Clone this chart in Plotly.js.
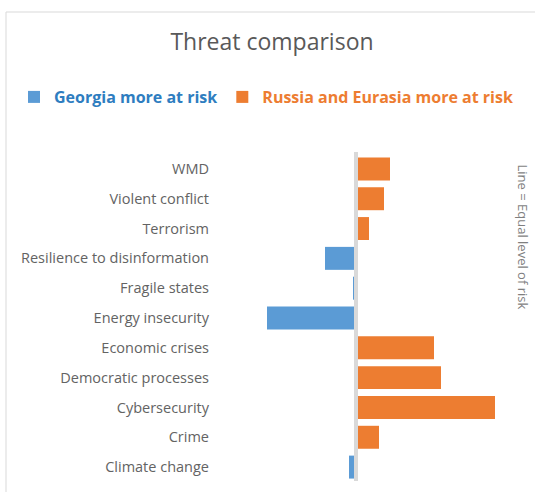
<!DOCTYPE html>
<html>
<head>
<meta charset="utf-8">
<script src="https://cdn.plot.ly/plotly-3.0.1.min.js"></script>
<style>
html,body{margin:0;padding:0;background:#fff;}
#chart{width:535px;height:492px;}
</style>
</head>
<body>
<div id="chart"></div>
<script>
// ---- data ----
const categories = ["WMD","Violent conflict","Terrorism","Resilience to disinformation","Fragile states","Energy insecurity","Economic crises","Democratic processes","Cybersecurity","Crime","Climate change"];
const georgiaMoreAtRisk = [null,null,null,-31,-3,-89,null,null,null,null,-7];
const russiaEurasiaMoreAtRisk = [34,28,13,null,null,null,78,85,139,23,null];
const seriesNames = ["Georgia more at risk","Russia and Eurasia more at risk"];
const chartTitle = "Threat comparison";
const lineNote = "Line = Equal level of risk";

// ---- layout helpers ----
const W = 535, H = 492;
const M = {l: 212, r: 25, t: 154, b: 10, autoexpand:false};
const pw = W - M.l - M.r, ph = H - M.t - M.b;
const px = x => (x - M.l) / pw;
const py = y => (H - M.b - y) / ph;

const FONT = '"Open Sans", "Noto Sans", sans-serif';
const BLUE = '#5b9bd5', ORANGE = '#ed7d31';

const traces = [
  {type:'bar', orientation:'h', y:categories, x:georgiaMoreAtRisk,
   name:'<b><span style="color:#2e7dc0">'+seriesNames[0]+'</span></b>',
   marker:{color:BLUE, line:{width:0}}, hoverinfo:'y+x'},
  {type:'bar', orientation:'h', y:categories, x:russiaEurasiaMoreAtRisk,
   name:'<b><span style="color:#ed7d31">'+seriesNames[1]+'</span></b>',
   marker:{color:ORANGE, line:{width:0}}, hoverinfo:'y+x'}
];

const layout = {
  width: W, height: H,
  margin: M,
  paper_bgcolor:'#fff', plot_bgcolor:'#fff',
  font:{family:FONT, color:'#595959'},
  title:{text:chartTitle, font:{family:FONT, size:23, color:'#595959'},
         x:272/W, xanchor:'center', xref:'container', y:1-42/H, yanchor:'middle', yref:'container'},
  barmode:'relative',
  bargap:0.23,
  showlegend:true,
  legend:{orientation:'h', xref:'paper', yref:'paper', x:px(14), y:py(97), yanchor:'middle', xanchor:'left',
          font:{family:FONT, size:16}, itemclick:false, traceorder:'normal', bgcolor:'rgba(0,0,0,0)', itemwidth:30},
  xaxis:{range:[-(356-M.l), 535-M.r-356], showgrid:false, zeroline:false, showticklabels:false, ticks:'', showline:false, fixedrange:true},
  yaxis:{type:'category', autorange:'reversed', showgrid:false, zeroline:false, ticks:'', showline:false,
         tickfont:{family:FONT, size:14.5, color:'#636363'}, fixedrange:true, ticklabelstandoff:2},
  shapes:[
    {type:'line', xref:'x', yref:'paper', x0:0, x1:0, y0:py(481), y1:py(152), line:{color:'#d9d9d9', width:4}, layer:'above'},
    {type:'rect', xref:'paper', yref:'paper', x0:px(6), x1:px(560), y0:py(520), y1:py(12), line:{color:'#d9d9d9', width:1}, fillcolor:'rgba(0,0,0,0)', layer:'below'}
  ],
  annotations:[
    {text:lineNote, textangle:90, xref:'paper', yref:'paper', x:px(523), y:py(162), xanchor:'center', yanchor:'top',
     showarrow:false, font:{family:FONT, size:13, color:'#7f7f7f'}}
  ]
};

Plotly.newPlot('chart', traces, layout, {displayModeBar:false, staticPlot:false});
</script>
</body>
</html>
